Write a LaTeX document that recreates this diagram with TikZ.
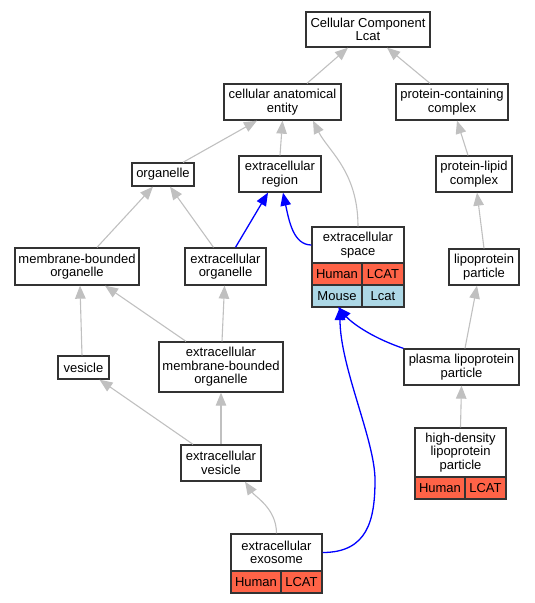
\documentclass[tikz,border=0pt]{standalone}
\usepackage{fontspec}
\setmainfont{Liberation Sans}
\usetikzlibrary{arrows.meta,calc}
\definecolor{edgegray}{HTML}{C0C0C0}
\definecolor{humanfill}{HTML}{FF6347}
\definecolor{mousefill}{HTML}{ADD8E6}
\definecolor{boxline}{HTML}{333333}
\tikzset{
  box/.style={draw=boxline, line width=1.3pt, fill=white, align=center, inner sep=0pt,
    font=\fontsize{13}{13.6}\selectfont},
  humancell/.style={box, fill=humanfill},
  mousecell/.style={box, fill=mousefill},
  isa/.style={draw=edgegray, line width=1.1pt, -{Triangle[length=13pt,width=10.5pt]}, edgegray},
  partof/.style={draw=blue, line width=1.3pt, -{Triangle[length=13pt,width=10.5pt]}, blue},
}
\begin{document}
\begin{tikzpicture}[x=1pt,y=-1pt]
\useasboundingbox (0,0) rectangle (535,603);
% nodes
\node[box, minimum width=124, minimum height=35] (cc) at (368,29.5) {Cellular Component\\Lcat};
\node[box, minimum width=117, minimum height=36] (cae) at (282.5,102) {cellular anatomical\\entity};
\node[box, minimum width=112, minimum height=36] (pcc) at (452,102) {protein-containing\\complex};
\node[box, minimum width=62, minimum height=23] (org) at (163,174.5) {organelle};
\node[box, minimum width=82, minimum height=36] (reg) at (280,174) {extracellular\\region};
\node[box, minimum width=76, minimum height=36] (plc) at (474,174) {protein-lipid\\complex};
% extracellular space table
\node[box, minimum width=92, minimum height=36] (spaceT) at (358,245) {extracellular\\space};
\node[humancell, minimum width=50, minimum height=22] (spaceH1) at (337,274) {Human};
\node[humancell, minimum width=42, minimum height=22] (spaceH2) at (383,274) {LCAT};
\node[mousecell, minimum width=50, minimum height=22] (spaceM1) at (337,296) {Mouse};
\node[mousecell, minimum width=42, minimum height=22] (spaceM2) at (383,296) {Lcat};
\coordinate (spaceS) at (358,307);
\node[box, minimum width=70, minimum height=36] (lp) at (484,267) {lipoprotein\\particle};
\node[box, minimum width=124, minimum height=37] (mbo) at (77,266.5) {membrane-bounded\\organelle};
\node[box, minimum width=81, minimum height=37] (eo) at (225.5,266.5) {extracellular\\organelle};
\node[box, minimum width=115, minimum height=36] (plasma) at (461.5,367) {plasma lipoprotein\\particle};
\node[box, minimum width=51, minimum height=23] (ves) at (83.5,367.5) {vesicle};
\node[box, minimum width=124, minimum height=50] (embo) at (221,367) {extracellular\\membrane-bounded\\organelle};
\node[box, minimum width=80, minimum height=36] (ev) at (221,463) {extracellular\\vesicle};
% HDL table
\node[box, minimum width=91, minimum height=49] (hdlT) at (460.5,452.5) {high-density\\lipoprotein\\particle};
\node[humancell, minimum width=50, minimum height=22] (hdlH1) at (440,488) {Human};
\node[humancell, minimum width=41, minimum height=22] (hdlH2) at (485.5,488) {LCAT};
% exosome table
\node[box, minimum width=91, minimum height=37] (exoT) at (276.5,552.5) {extracellular\\exosome};
\node[humancell, minimum width=50, minimum height=22] (exoH1) at (256,582) {Human};
\node[humancell, minimum width=41, minimum height=22] (exoH2) at (301.5,582) {LCAT};
% gray is-a edges
\draw[isa] ([xshift=24.5]cae.north) -- ([xshift=-20]cc.south);
\draw[isa] ([xshift=-22]pcc.north) -- ([xshift=19]cc.south);
\draw[isa] ([xshift=20]org.north) -- ([xshift=-25.5]cae.south);
\draw[isa] (reg.north) -- (cae.south);
\draw[isa] (spaceT.north) .. controls +(0,-55) and +(15,30) .. ([xshift=30.5]cae.south);
\draw[isa] ([xshift=-6]plc.north) -- ([xshift=5]pcc.south);
\draw[isa] ([xshift=20]mbo.north) -- ([xshift=-10]org.south);
\draw[isa] ([xshift=-12]eo.north) -- ([xshift=7]org.south);
\draw[isa] (lp.north) -- ([xshift=3]plc.south);
\draw[isa] ([xshift=-1.5]ves.north) -- ([xshift=3]mbo.south);
\draw[isa] ([xshift=-35]embo.north) -- ([xshift=28]mbo.south);
\draw[isa] ([xshift=1]embo.north) -- ([xshift=-1]eo.south);
\draw[isa] ([xshift=3.5]plasma.north) -- ([xshift=-7]lp.south);
\draw[isa] (hdlT.north) -- (plasma.south);
\draw[isa] ([xshift=-28]ev.north) -- ([xshift=16]ves.south);
\draw[isa] (ev.north) -- (embo.south);
\draw[isa] (exoT.north) .. controls +(0,-25) and +(10,15) .. ([xshift=24]ev.south);
% blue part-of edges
\draw[partof] ([xshift=10]eo.north) -- ([xshift=-12]reg.south);
\draw[partof] (spaceT.west) .. controls +(-18,0) and +(6,28) .. ([xshift=3]reg.south);
\draw[partof] (plasma.north west) .. controls +(-35,-12) and +(12,14) .. ([xshift=-20]spaceS);
\draw[partof] (exoT.east) .. controls +(45,0) and +(0,40) .. (375,480) .. controls +(0,-40) and +(0,60) .. ([xshift=-18]spaceS);
\end{tikzpicture}
\end{document}
